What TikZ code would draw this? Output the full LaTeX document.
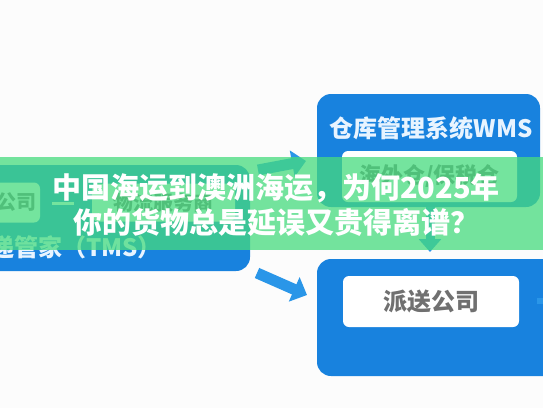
\documentclass[tikz,border=0pt]{standalone}
\usepackage{fontspec}
\newfontfamily\cjk{Noto Sans CJK SC}
\usetikzlibrary{arrows.meta}
\definecolor{boxblue}{RGB}{24,130,222}
\definecolor{arrowblue}{RGB}{42,150,232}
\definecolor{graytext}{RGB}{112,112,112}
\definecolor{lighttext}{RGB}{232,244,255}
\definecolor{bannergreen}{RGB}{70,219,126}
\definecolor{bgwhite}{RGB}{252,252,252}
\tikzset{
  bluebox/.style={fill=boxblue, rounded corners=14pt, inner sep=0pt},
  whitebox/.style={fill=white, rounded corners=6pt, inner sep=0pt},
  boxlabel/.style={font=\cjk\bfseries\fontsize{24}{26}\selectfont, inner sep=0pt},
  blockarrow/.style={draw=arrowblue, line width=11pt, -{Triangle[length=14pt 0 0, width=26pt 0 0]}},
}
\begin{document}
\begin{tikzpicture}[x=1pt,y=-1pt]
\useasboundingbox (0,0) rectangle (543,408);
\clip (0,0) rectangle (543,408);
\fill[bgwhite] (0,0) rectangle (543,408);
% boxes
\node[bluebox, minimum width=223pt, minimum height=113pt] (wms) at (428.5,150.5) {};
\node[whitebox, minimum width=175pt, minimum height=51pt] (wh) at (429.5,176.5) {};
\node[boxlabel, text=lighttext] (wmst) at (431,128) {仓库管理系统WMS};
\node[boxlabel, text=graytext, font=\cjk\bfseries\fontsize{22}{24}\selectfont] (wht) at (wh.center) {海外仓/保税仓};
\node[bluebox, minimum width=243pt, minimum height=117pt] (dlv) at (438.5,317.5) {};
\node[whitebox, minimum width=176pt, minimum height=51pt] (dc) at (431,301.5) {};
\node[boxlabel, text=graytext] (dct) at (dc.center) {派送公司};
\node[bluebox, minimum width=280pt, minimum height=106pt] (tms) at (110,218) {};
\node[whitebox, minimum width=60pt, minimum height=40pt] (co) at (10,202.5) {};
\node[boxlabel, text=graytext, font=\cjk\bfseries\fontsize{20}{22}\selectfont, anchor=east] (cot) at (37,202.5) {公司};
\node[whitebox, minimum width=143pt, minimum height=38pt] (lsp) at (163.5,202.5) {};
\node[boxlabel, text=graytext, font=\cjk\bfseries\fontsize{20}{22}\selectfont] (lspt) at (lsp.center) {物流服务商};
\node[boxlabel, text=lighttext, anchor=west] (tmst) at (-10,247) {递管家（TMS）};
% connectors
\coordinate (c1) at (52,203);
\coordinate (c2) at (74,203);
\draw[white, line width=3pt] (c1) -- (c2);
\coordinate (a1s) at (258,170);
\coordinate (a1e) at (306,161);
\draw[blockarrow] (a1s) -- (a1e);
\coordinate (a2s) at (257,273);
\coordinate (a2e) at (307,295);
\draw[blockarrow] (a2s) -- (a2e);
\coordinate (a3s) at (430,207);
\coordinate (a3e) at (430,252);
\draw[blockarrow, line width=9pt, -{Triangle[length=13pt 0 0, width=22pt 0 0]}] (a3s) -- (a3e);
\coordinate (a4s) at (537,301);
\coordinate (a4e) at (550,301);
\draw[arrowblue, line width=6pt] (a4s) -- (a4e);
% banner
\fill[bannergreen, opacity=0.75] (0,157) rectangle (543,250);
\node[text=white, font=\cjk\bfseries\fontsize{29}{35}\selectfont, align=center, inner sep=0pt] (title) at (276,205.5) {中国海运到澳洲海运，为何2025年\\你的货物总是延误又贵得离谱？};
\end{tikzpicture}
\end{document}
